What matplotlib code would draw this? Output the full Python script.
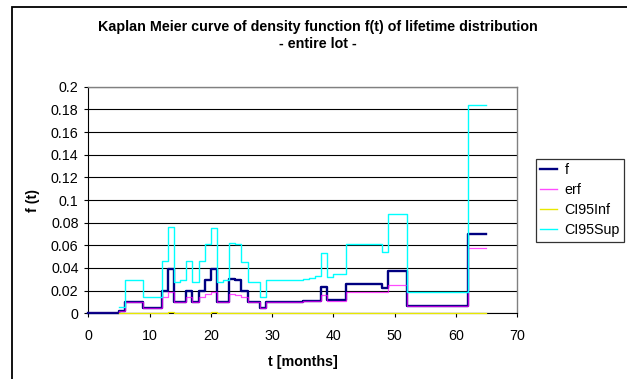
import matplotlib
matplotlib.use('Agg')
import matplotlib.pyplot as plt
from matplotlib.patches import Rectangle
from matplotlib.ticker import FormatStrFormatter
import numpy as np

plt.rcParams['font.family'] = ['Liberation Sans', 'DejaVu Sans']

# step boundaries (months) and value of each series on each interval
t = [0, 5, 6, 9, 12, 13, 14, 15, 16, 17, 18, 19, 20, 21, 22, 23, 24, 25, 26,
     28, 29, 35, 36, 37, 38, 39, 40, 42, 48, 49, 52, 62, 65]
f = [0, 0.002, 0.010, 0.005, 0.020, 0.039, 0.010, 0.010, 0.020, 0.010, 0.020,
     0.029, 0.039, 0.010, 0.010, 0.030, 0.029, 0.020, 0.010, 0.005, 0.010,
     0.0105, 0.0105, 0.011, 0.023, 0.012, 0.012, 0.026, 0.022, 0.037, 0.0065,
     0.070]
erf = [0, 0.002, 0.010, 0.005, 0.014, 0.019, 0.010, 0.010, 0.014, 0.010, 0.014,
       0.017, 0.019, 0.010, 0.010, 0.017, 0.016, 0.014, 0.010, 0.005, 0.010,
       0.0105, 0.0105, 0.011, 0.016, 0.011, 0.011, 0.0185, 0.0185, 0.025,
       0.0065, 0.058]
ci_inf = [np.nan, 0, 0, 0, 0, 0.0015, 0, 0, 0, 0, 0, 0, 0.0012, 0, 0, 0, 0, 0,
          0, 0, 0, 0, 0, 0, 0, 0, 0, 0, 0, 0, 0, 0]
ci_sup = [np.nan, 0.006, 0.029, 0.014, 0.046, 0.076, 0.028, 0.029, 0.046, 0.028,
          0.046, 0.061, 0.075, 0.028, 0.029, 0.062, 0.061, 0.045, 0.028, 0.014,
          0.029, 0.030, 0.031, 0.033, 0.053, 0.032, 0.035, 0.061, 0.054, 0.088,
          0.019, 0.184]

W, H = 627, 379
fs = 10.3
fig = plt.figure(figsize=(W / 100, H / 100), dpi=100)
ax = fig.add_axes([88.3 / W, 1 - 313.3 / H, (517 - 88.3) / W, (313.3 - 86.7) / H])

def step(vals):
    return list(vals) + [vals[-1]]

ax.plot(t, step(f), drawstyle='steps-post', color='#000080', lw=1.7, label='f', zorder=3, clip_on=False)
ax.plot(t, step(erf), drawstyle='steps-post', color='#FF00FF', lw=0.9, alpha=0.7, label='erf', zorder=4)
ax.plot(t, step(ci_inf), drawstyle='steps-post', color='#E8E800', lw=0.9, label='CI95Inf', zorder=6, clip_on=False)
ax.plot(t, step(ci_sup), drawstyle='steps-post', color='#00FFFF', lw=1.0, label='CI95Sup', zorder=5)

ax.set_xlim(0, 70)
ax.set_ylim(0, 0.2)
ax.set_xticks(np.arange(0, 71, 10))
ax.set_yticks(np.arange(0, 0.201, 0.02))
ax.yaxis.set_major_formatter(FormatStrFormatter('%g'))
ax.grid(axis='y', color='black', lw=0.8)
ax.set_axisbelow(True)
ax.tick_params(labelsize=fs, length=3, width=0.8, direction='out', pad=4)
ax.tick_params(axis='x', pad=8)
for s in ['top', 'right']:
    ax.spines[s].set_color('#808080')
    ax.spines[s].set_linewidth(1.0)
ax.spines['left'].set_linewidth(0.8)
ax.spines['bottom'].set_linewidth(0.8)

ax.set_xlabel('t [months]', fontsize=fs, fontweight='bold', labelpad=9)
ax.set_ylabel('f (t)', fontsize=fs, fontweight='bold', labelpad=8)

fig.text(318 / W, 1 - 27 / H, 'Kaplan Meier curve of density function f(t) of lifetime distribution',
         ha='center', va='center', fontsize=fs, fontweight='bold')
fig.text(318 / W, 1 - 44 / H, '- entire lot -', ha='center', va='center',
         fontsize=fs, fontweight='bold')

leg = ax.legend(loc='upper left', bbox_to_anchor=(536 / W, 1 - 159 / H),
                bbox_transform=fig.transFigure, borderaxespad=0, fontsize=fs,
                frameon=True, fancybox=False, edgecolor='black', handlelength=1.2,
                handletextpad=0.5, labelspacing=0.42, borderpad=0.3)
leg.get_frame().set_linewidth(0.9)
for line in leg.get_lines():
    line.set_linewidth(1.0)
leg.get_lines()[0].set_linewidth(1.7)

fig.add_artist(Rectangle((12 / W, -0.1), 2, 1 - 7 / H + 0.1, transform=fig.transFigure,
                         fill=False, lw=1.3, edgecolor='black'))

fig.savefig('out.png', dpi=100)
